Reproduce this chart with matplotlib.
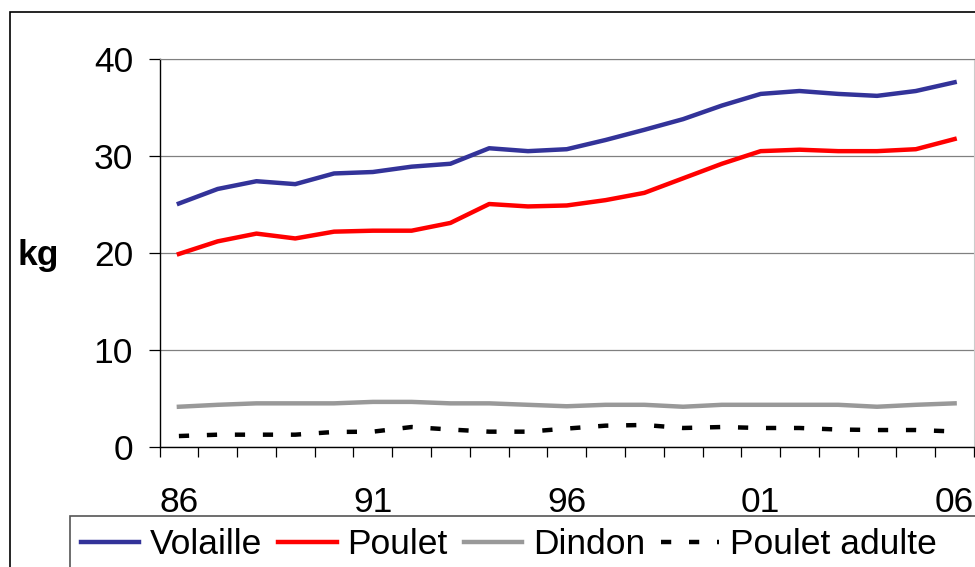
import matplotlib
matplotlib.use("Agg")
import matplotlib.pyplot as plt
from matplotlib.patches import Rectangle

years = list(range(1986, 2007))
year_labels = ["86", "91", "96", "01", "06"]

volaille = [25.1, 26.6, 27.4, 27.1, 28.2, 28.35, 28.9, 29.2, 30.8, 30.5, 30.7,
            31.65, 32.7, 33.8, 35.2, 36.4, 36.7, 36.4, 36.2, 36.7, 37.6]
poulet = [19.9, 21.2, 22.0, 21.5, 22.2, 22.3, 22.3, 23.1, 25.05, 24.8, 24.9,
          25.45, 26.2, 27.7, 29.2, 30.5, 30.65, 30.5, 30.5, 30.7, 31.75]
dindon = [4.15, 4.35, 4.5, 4.5, 4.5, 4.65, 4.65, 4.5, 4.5, 4.35, 4.2,
          4.35, 4.35, 4.15, 4.35, 4.35, 4.35, 4.35, 4.15, 4.35, 4.5]
poulet_adulte = [1.13, 1.27, 1.27, 1.27, 1.55, 1.58, 2.06, 1.8, 1.58, 1.58, 1.9,
                 2.2, 2.27, 1.96, 2.06, 1.96, 1.96, 1.8, 1.75, 1.75, 1.6]

plt.rcParams['font.family'] = ['Liberation Sans', 'DejaVu Sans']
FS = 25.5

W, H = 975, 567
fig = plt.figure(figsize=(W / 100, H / 100), dpi=100)

# outer chart frame (runs off the right and bottom edges)
fig.patches.append(Rectangle((10 / W, -0.1), 1.2, 1 - 12 / H + 0.1, transform=fig.transFigure,
                             fill=False, edgecolor='black', linewidth=1.2))

left, right, top, bottom = 159.5, 974, 59, 447
ax = fig.add_axes([left / W, 1 - bottom / H, (right - left) / W, (bottom - top) / H])

idx = list(range(len(years)))
ax.plot(idx, volaille, color='#333399', linewidth=3.2, label='Volaille', zorder=4)
ax.plot(idx, poulet, color='#ff0000', linewidth=3.2, label='Poulet', zorder=4)
ax.plot(idx, dindon, color='#999999', linewidth=3.2, label='Dindon', zorder=3)
ax.plot(idx, poulet_adulte, color='black', linewidth=3.2, dashes=(2.3, 4.0),
        label='Poulet adulte', zorder=3)

ax.set_xlim(-0.5, len(years) - 0.5)
ax.set_ylim(0, 40)
ax.set_yticks([0, 10, 20, 30, 40])
ax.yaxis.grid(True, color='#808080', linewidth=0.9)
ax.set_axisbelow(True)

# ticks between categories, labels every 5 years
ax.set_xticks([i - 0.5 for i in range(len(years) + 1)])
ax.set_xticklabels([])
ax.set_xticks([0, 5, 10, 15, 20], minor=True)
ax.set_xticklabels(year_labels, minor=True)
ax.tick_params(axis='x', which='major', direction='out', length=7, width=0.9)
ax.tick_params(axis='x', which='minor', length=0, pad=28, labelsize=FS)
ax.tick_params(axis='y', direction='out', length=8, width=0.9, pad=11, labelsize=FS)

for s in ['left', 'bottom']:
    ax.spines[s].set_color('black')
    ax.spines[s].set_linewidth(1)
ax.spines['top'].set_color('#808080')
ax.spines['right'].set_color('#cccccc')

fig.text(38 / W, 1 - 255 / H, 'kg', fontsize=FS, fontweight='bold', ha='center', va='center')

# legend box
fig.patches.append(Rectangle((70 / W, -0.1), 1.2, 1 - 516 / H + 0.1, transform=fig.transFigure,
                             fill=False, edgecolor='#555555', linewidth=1.2))
fig.legend(loc='center left', bbox_to_anchor=(81 / W, 1 - 545 / H), ncol=4, frameon=False,
           fontsize=FS, handlelength=1.65, handletextpad=0.3, columnspacing=0.45,
           borderpad=0, borderaxespad=0)

fig.savefig('out.png', dpi=100)
